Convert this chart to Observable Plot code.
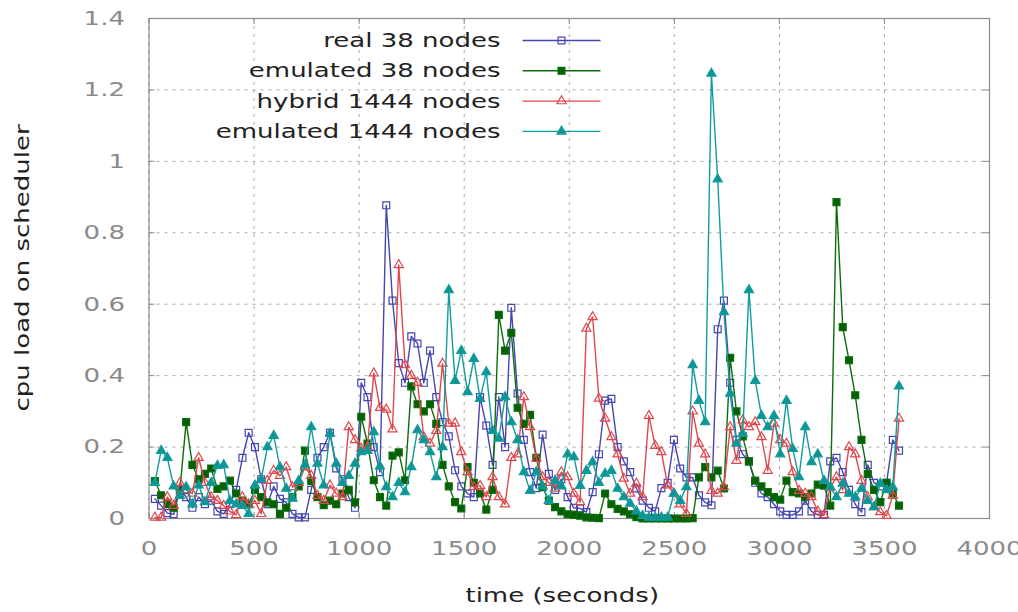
<!DOCTYPE html>
<html>
<head>
<meta charset="utf-8">
<script src="https://cdn.jsdelivr.net/npm/d3@7"></script>
<script src="https://cdn.jsdelivr.net/npm/@observablehq/plot@0.6"></script>
<style>
  html, body { margin: 0; padding: 0; background: #fff; }
  #chart { width: 1018px; height: 612px; }
</style>
</head>
<body>
<div id="chart"></div>
<script>
// ---------- data ----------
const sampleStart = 28;      // seconds, first sample
const sampleStep = 29.76;    // seconds between samples

const seriesNames = ["real 38 nodes", "emulated 38 nodes", "hybrid 1444 nodes", "emulated 1444 nodes"];

const real38 = [
  0.055, 0.036, 0.015, 0.012, 0.08, 0.06, 0.03, 0.06, 0.04, 0.05,
  0.02, 0.013, 0.04, 0.08, 0.17, 0.24, 0.2, 0.11, 0.04, 0.09,
  0.055, 0.045, 0.013, 0.003, 0.003, 0.08, 0.17, 0.2, 0.24, 0.14,
  0.11, 0.06, 0.03, 0.38, 0.34, 0.2, 0.13, 0.877, 0.61, 0.435,
  0.38, 0.51, 0.49, 0.38, 0.47, 0.34, 0.27, 0.23, 0.135, 0.09,
  0.07, 0.06, 0.34, 0.26, 0.15, 0.34, 0.2, 0.59, 0.35, 0.22,
  0.13, 0.085, 0.235, 0.125, 0.08, 0.11, 0.06, 0.03, 0.028, 0.018,
  0.074, 0.18, 0.33, 0.335, 0.2, 0.16,
  0.13, 0.084, 0.05, 0.03, 0.02, 0.085, 0.1, 0.22, 0.14, 0.115,
  0.115, 0.065, 0.045, 0.037, 0.53, 0.61, 0.38, 0.22, 0.18, 0.16,
  0.1, 0.07, 0.06, 0.04, 0.02, 0.01, 0.01, 0.02, 0.05, 0.02,
  0.01, 0.01, 0.16, 0.17, 0.13, 0.08, 0.04, 0.018, 0.15, 0.1,
  0.09, 0.1, 0.22, 0.19
];
const emulated38 = [
  0.105, 0.065, 0.04, 0.03, 0.08, 0.27, 0.15, 0.11, 0.125, 0.14,
  0.083, 0.09, 0.106, 0.07, 0.05, 0.04, 0.08, 0.06, 0.045, 0.04,
  0.013, 0.03, 0.06, 0.09, 0.19, 0.105, 0.06, 0.037, 0.05, 0.04,
  0.07, 0.08, 0.045, 0.285, 0.21, 0.107, 0.06, 0.036, 0.176, 0.185,
  0.107, 0.37, 0.32, 0.3, 0.32, 0.265, 0.15, 0.09, 0.046, 0.028,
  0.144, 0.1, 0.07, 0.025, 0.08, 0.57, 0.47, 0.52, 0.31, 0.265,
  0.29, 0.17, 0.088, 0.05, 0.032, 0.02, 0.012, 0.01, 0.008, 0.003,
  0.002, 0.001, 0.07, 0.04, 0.027, 0.02,
  0.012, 0.004, 0, 0, 0, 0, 0, 0, 0, 0,
  0.001, 0.115, 0.144, 0.115, 0.134, 0.084, 0.45, 0.3, 0.23, 0.16,
  0.106, 0.09, 0.074, 0.06, 0.053, 0.106, 0.074, 0.07, 0.06, 0.07,
  0.095, 0.092, 0.036, 0.886, 0.536, 0.443, 0.345, 0.22, 0.125, 0.08,
  0.046, 0.1, 0.07, 0.036
];
const hybrid1444 = [
  0.003, 0.003, 0.06, 0.036, 0.1, 0.08, 0.07, 0.17, 0.1, 0.06,
  0.05, 0.036, 0.02, 0.01, 0.06, 0.04, 0.05, 0.013, 0.106, 0.134,
  0.12, 0.144, 0.088, 0.1, 0.144, 0.12, 0.064, 0.05, 0.093, 0.07,
  0.06, 0.256, 0.22, 0.196, 0.2, 0.407, 0.31, 0.305, 0.25, 0.71,
  0.43, 0.4, 0.38, 0.228, 0.21, 0.246, 0.434, 0.266, 0.267, 0.186,
  0.13, 0.088, 0.092, 0.06, 0.116, 0.06, 0.04, 0.17, 0.18, 0.34,
  0.256, 0.168, 0.116, 0.1, 0.084, 0.13, 0.116, 0.07, 0.046, 0.532,
  0.564, 0.336, 0.28, 0.228, 0.18, 0.112,
  0.07, 0.098, 0.06, 0.288, 0.204, 0.186, 0.093, 0.07, 0.04, 0.013,
  0.3, 0.21, 0.18, 0.078, 0.07, 0.088, 0.256, 0.162, 0.275, 0.256,
  0.27, 0.228, 0.134, 0.266, 0.22, 0.21, 0.13, 0.078, 0.07, 0.06,
  0.02, 0.01, 0.087, 0.116, 0.08, 0.2, 0.18, 0.106, 0.06, 0.032,
  0.018, 0.008, 0.064, 0.28
];
const emulated1444 = [
  0.1, 0.19, 0.17, 0.09, 0.064, 0.088, 0.04, 0.093, 0.046, 0.1,
  0.148, 0.15, 0.05, 0.04, 0.036, 0.013, 0.093, 0.11, 0.2, 0.232,
  0.144, 0.084, 0.056, 0.106, 0.15, 0.256, 0.154, 0.093, 0.238, 0.154,
  0.1, 0.12, 0.154, 0.186, 0.19, 0.242, 0.146, 0.088, 0.06, 0.1,
  0.074, 0.144, 0.248, 0.22, 0.186, 0.116, 0.2, 0.64, 0.386, 0.47,
  0.354, 0.447, 0.335, 0.41, 0.246, 0.224, 0.34, 0.27, 0.22, 0.13,
  0.078, 0.13, 0.09, 0.05, 0.106, 0.09, 0.18, 0.172, 0.092, 0.134,
  0.158, 0.1, 0.126, 0.134, 0.084, 0.06,
  0.042, 0.02, 0.008, 0.003, 0.003, 0.003, 0.003, 0.07, 0.05, 0.088,
  0.43, 0.33, 0.27, 1.246, 0.95, 0.578, 0.35, 0.21, 0.237, 0.64,
  0.386, 0.288, 0.256, 0.288, 0.18, 0.33, 0.195, 0.116, 0.256, 0.158,
  0.18, 0.106, 0.088, 0.06, 0.098, 0.07, 0.06, 0.084, 0.05, 0.032,
  0.098, 0.08, 0.088, 0.37
];

const xTicks = [0, 500, 1000, 1500, 2000, 2500, 3000, 3500, 4000];
const yTicks = [0, 0.2, 0.4, 0.6, 0.8, 1, 1.2, 1.4];
const xLabel = "time (seconds)";
const yLabel = "cpu load on scheduler";

// ---------- layout / style ----------
const W = 1018, H = 612;
const mL = 148.5, mR = 29, mT = 18, mB = 94;
const plotW = W - mL - mR, plotH = H - mT - mB;
const FONT = 20;
const STRETCH = 1.3;

const styles = [
  {color: "#4646b0", symbol: "square",   fill: "none",    r: 3.9},
  {color: "#0a6e0a", symbol: "square",   fill: "#056005", r: 3.9},
  {color: "#e0474c", symbol: "triangle", fill: "none",    r: 3.4},
  {color: "#129c9c", symbol: "triangle", fill: "#0f9494", r: 3.4}
];

const allValues = [real38, emulated38, hybrid1444, emulated1444];
const times = real38.map((_, k) => sampleStart + k * sampleStep);
const rows = allValues.map((vals, s) => vals.map((v, k) => ({t: times[k], v, s: seriesNames[s]})));

// legend positions (pixel layout -> data coordinates through inverse of the linear scales)
const xInv = px => (px - mL) / plotW * 4000;
const yInv = py => (H - mB - py) / plotH * 1.4;
const legend = seriesNames.map((name, i) => ({
  name,
  i,
  yy: yInv(40 + 30.3 * i),
  xText: xInv(500),
  x1: xInv(522),
  x2: xInv(600),
  xm: xInv(561)
}));

const seriesMarks = allValues.flatMap((_, s) => {
  const st = styles[s];
  return [
    Plot.line(rows[s], {x: "t", y: "v", stroke: st.color, strokeWidth: 1.4}),
    Plot.dot(rows[s], {x: "t", y: "v", symbol: st.symbol, r: st.r, stroke: st.color, fill: st.fill, strokeWidth: 1.2})
  ];
});

const legendMarks = legend.flatMap(d => {
  const st = styles[d.i];
  return [
    Plot.text([d], {x: "xText", y: "yy", text: "name", textAnchor: "end", lineAnchor: "middle", fill: "#222", fontSize: FONT}),
    Plot.link([d], {x1: "x1", x2: "x2", y1: "yy", y2: "yy", stroke: st.color, strokeWidth: 1.4}),
    Plot.dot([d], {x: "xm", y: "yy", symbol: st.symbol, r: st.r, stroke: st.color, fill: st.fill, strokeWidth: 1.2})
  ];
});

const chart = Plot.plot({
  width: W, height: H,
  marginLeft: mL, marginRight: mR, marginTop: mT, marginBottom: mB,
  x: {domain: [0, 4000]},
  y: {domain: [0, 1.4]},
  style: {fontFamily: "DejaVu Sans", fontSize: FONT + "px", background: "#fff", color: "#888"},
  marks: [
    Plot.gridX(xTicks, {stroke: "#a8a8a8", strokeOpacity: 1, strokeDasharray: "3,5"}),
    Plot.gridY(yTicks, {stroke: "#a8a8a8", strokeOpacity: 1, strokeDasharray: "3,5"}),
    Plot.tickX(xTicks, {x: d => d, stroke: "#888", insetTop: plotH - 6}),
    Plot.tickX(xTicks, {x: d => d, stroke: "#888", insetBottom: plotH - 6}),
    Plot.tickY(yTicks, {y: d => d, stroke: "#888", insetRight: plotW - 6}),
    Plot.tickY(yTicks, {y: d => d, stroke: "#888", insetLeft: plotW - 6}),
    Plot.frame({stroke: "#8c8c8c", strokeWidth: 1.2}),
    Plot.axisX(xTicks, {tickSize: 0, tickPadding: 22, tickFormat: d => String(d), fill: "#8a8a8a", fontSize: FONT}),
    Plot.axisY(yTicks, {tickSize: 0, tickPadding: 24, tickFormat: d => String(+d.toFixed(1)), fill: "#8a8a8a", fontSize: FONT, label: null}),
    Plot.text([xLabel], {frameAnchor: "bottom", dx: -7, dy: 77, lineAnchor: "middle", fill: "#222", fontSize: FONT}),
    Plot.text([yLabel], {frameAnchor: "left", dx: -126.5, dy: 143, rotate: -90, textAnchor: "start", lineAnchor: "middle", fill: "#222", fontSize: FONT}),
    ...seriesMarks,
    ...legendMarks
  ]
});

document.getElementById("chart").append(chart);

// the reference font is rendered horizontally wide: stretch glyphs along text direction
chart.querySelectorAll("text").forEach(t => {
  const len = t.getComputedTextLength();
  if (len > 0) {
    t.setAttribute("textLength", (len * STRETCH).toFixed(1));
    t.setAttribute("lengthAdjust", "spacingAndGlyphs");
  }
});
</script>
</body>
</html>
